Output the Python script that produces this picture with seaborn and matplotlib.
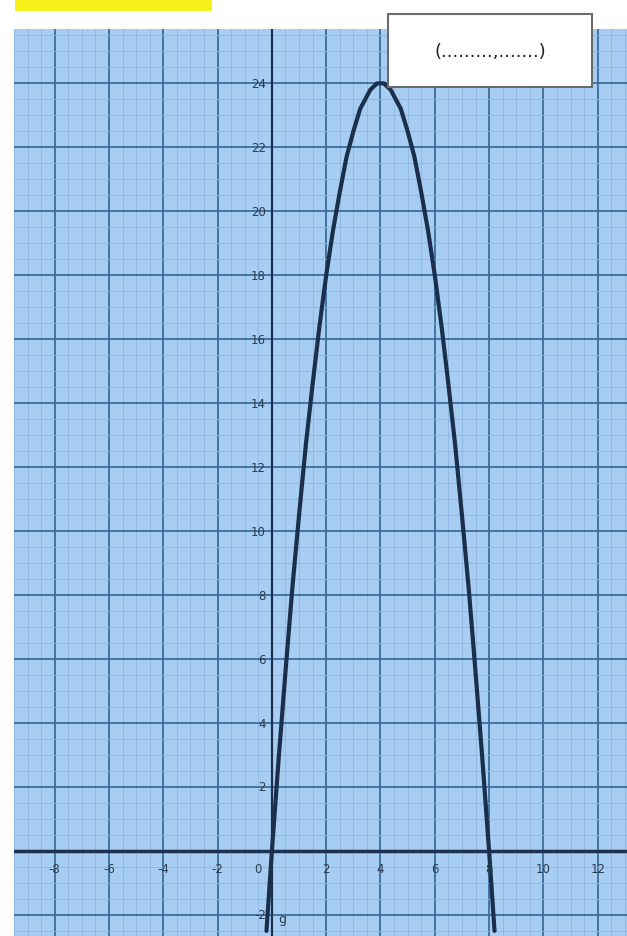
import numpy as np
import seaborn as sns
import matplotlib.pyplot as plt
from matplotlib.patches import Rectangle
from matplotlib.ticker import MultipleLocator

# points
x_vals = [-0.2, 0, 0.25, 0.5, 0.75, 1, 1.25, 1.5, 1.75, 2, 2.25, 2.5, 2.75, 3, 3.25, 3.5, 3.625, 3.75, 3.875, 4,
          4.125, 4.25, 4.375, 4.5, 4.75, 5, 5.25, 5.5, 5.75, 6, 6.25, 6.5, 6.75, 7, 7.25, 7.5, 7.75, 8, 8.2]
y_vals = [-2.5, 0, 2.9, 5.6, 8.2, 10.5, 12.7, 14.6, 16.4, 18, 19.4, 20.6, 21.7, 22.5, 23.2, 23.6, 23.8, 23.9, 24.0, 24,
          24.0, 23.9, 23.8, 23.6, 23.2, 22.5, 21.7, 20.6, 19.4, 18, 16.4, 14.6, 12.7, 10.5, 8.2, 5.6, 2.9, 0, -2.5]

x_ticks = [-8, -6, -4, -2, 2, 4, 6, 8, 10, 12]
y_ticks = [-2, 2, 4, 6, 8, 10, 12, 14, 16, 18, 20, 22, 24]

sns.set_style("white")

fig = plt.figure(figsize=(6.27, 9.37), dpi=100)
ax = fig.add_axes([14 / 627, 0, 1 - 14 / 627, 1 - 30 / 937])
ax.set_facecolor("#a7cef2")

ax.set_xlim(-9.5, 13.08)
ax.set_ylim(-2.66, 25.7)

for s in ax.spines.values():
    s.set_visible(False)
ax.tick_params(which="both", length=0)
ax.set_xticks(x_ticks)
ax.set_yticks(y_ticks)
ax.set_xticklabels([])
ax.set_yticklabels([])

# grid like graph paper
ax.xaxis.set_minor_locator(MultipleLocator(0.5))
ax.yaxis.set_minor_locator(MultipleLocator(0.5))
ax.set_axisbelow(True)
ax.grid(which="minor", color="#8db6de", linewidth=0.6)
ax.grid(which="major", color="#3d6c9c", linewidth=1.3)

sns.lineplot(x=x_vals, y=y_vals, sort=False, estimator=None, color="#1b2f4d", linewidth=3, ax=ax)
ax.lines[-1].set_solid_joinstyle("round")
ax.lines[-1].set_solid_capstyle("round")

# axes through origin
ax.axhline(0, color="#1c3150", linewidth=2.5)
ax.axvline(0, color="#1c3150", linewidth=1.6)

lab_kw = dict(fontsize=8.5, color="#2a3b50", zorder=10)
for t in x_ticks:
    ax.text(t, -0.55, str(t), ha="center", va="center", **lab_kw)
ax.text(-0.5, -0.55, "0", ha="center", va="center", **lab_kw)
for t in y_ticks:
    ax.text(-0.22, t, str(t), ha="right", va="center", **lab_kw)
ax.text(0.38, -2.1, "g", ha="center", va="center", fontsize=9, color="#2a3b50", zorder=10)

# highlighted (cropped) title strip
fig.patches.append(Rectangle((15 / 627, 1 - 12 / 937), 197 / 627, 12 / 937,
                             transform=fig.transFigure, facecolor="#f6ef1a", edgecolor="none"))

# answer box
fig.patches.append(Rectangle((388 / 627, 1 - 88 / 937), 204 / 627, 73 / 937,
                             transform=fig.transFigure, facecolor="white",
                             edgecolor="#6b6b6b", linewidth=1.5, zorder=5))
fig.text(490 / 627, 1 - 52 / 937, "(.........,.......)", ha="center", va="center",
         fontsize=13, color="#222222", zorder=6)

plt.savefig("out.png", dpi=100)
